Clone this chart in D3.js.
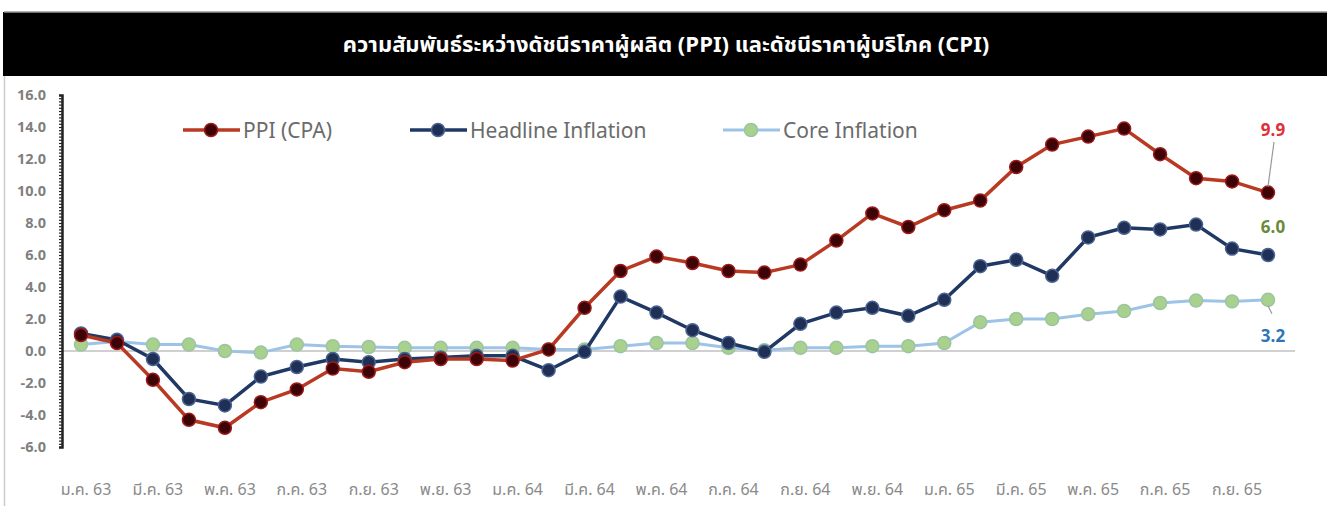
<!DOCTYPE html>
<html><head><meta charset="utf-8">
<script src="https://cdn.jsdelivr.net/npm/d3@7"></script>
<style>
html,body{margin:0;padding:0;background:#fff;}
svg{display:block;}
text{font-family:"Noto Sans Thai","Noto Sans","DejaVu Sans",sans-serif;}
</style></head>
<body>
<svg id="c" width="1327" height="506"></svg>
<script>
const months = ["ม.ค.63","ก.พ.63","มี.ค.63","เม.ย.63","พ.ค.63","มิ.ย.63","ก.ค.63","ส.ค.63","ก.ย.63","ต.ค.63","พ.ย.63","ธ.ค.63",
"ม.ค.64","ก.พ.64","มี.ค.64","เม.ย.64","พ.ค.64","มิ.ย.64","ก.ค.64","ส.ค.64","ก.ย.64","ต.ค.64","พ.ย.64","ธ.ค.64",
"ม.ค.65","ก.พ.65","มี.ค.65","เม.ย.65","พ.ค.65","มิ.ย.65","ก.ค.65","ส.ค.65","ก.ย.65","ต.ค.65"];
const ppi = [1.0,0.5,-1.8,-4.3,-4.8,-3.2,-2.4,-1.1,-1.3,-0.7,-0.5,-0.5,-0.6,0.1,2.7,5.0,5.9,5.5,5.0,4.9,5.4,6.9,8.6,7.75,8.8,9.4,11.5,12.9,13.4,13.9,12.3,10.8,10.6,9.9];
const headline = [1.1,0.7,-0.5,-3.0,-3.4,-1.6,-1.0,-0.5,-0.7,-0.5,-0.4,-0.3,-0.3,-1.2,-0.05,3.4,2.4,1.3,0.5,-0.05,1.7,2.4,2.7,2.2,3.2,5.3,5.7,4.7,7.1,7.7,7.6,7.9,6.4,6.0];
const core = [0.4,0.6,0.4,0.4,0.0,-0.1,0.4,0.3,0.25,0.2,0.2,0.2,0.2,0.1,0.1,0.3,0.5,0.5,0.2,0.05,0.2,0.2,0.3,0.3,0.5,1.8,2.0,2.0,2.3,2.5,3.0,3.15,3.1,3.2];
const yTicks = [16,14,12,10,8,6,4,2,0,-2,-4,-6];
const xTickLabels = ["ม.ค.63","มี.ค.63","พ.ค.63","ก.ค.63","ก.ย.63","พ.ย.63","ม.ค.64","มี.ค.64","พ.ค.64","ก.ค.64","ก.ย.64","พ.ย.64","ม.ค.65","มี.ค.65","พ.ค.65","ก.ค.65","ก.ย.65"];
const seriesNames = ["PPI (CPA)","Headline Inflation","Core Inflation"];
const title = "ความสัมพันธ์ระหว่างดัชนีราคาผู้ผลิต (PPI) และดัชนีราคาผู้บริโภค (CPI)";

const svg = d3.select("#c");
// frame
svg.append("rect").attr("x",3).attr("y",12).attr("width",1330).attr("height",64).attr("fill","#000");
svg.append("line").attr("x1",4).attr("x2",1327).attr("y1",12).attr("y2",12).attr("stroke","#999").attr("stroke-width",1.5);
svg.append("line").attr("x1",4.5).attr("x2",4.5).attr("y1",76).attr("y2",506).attr("stroke","#ccc").attr("stroke-width",1.5);
svg.append("text").attr("x",666).attr("y",52).attr("text-anchor","middle").attr("fill","#fff")
  .attr("font-size",22).attr("font-weight","bold").text(title);

const x = d3.scalePoint().domain(months).range([81,1268]);
const y = d3.scaleLinear().domain([-6,16]).range([447,95]);

// zero line
svg.append("line").attr("x1",62).attr("x2",1295).attr("y1",y(0)).attr("y2",y(0)).attr("stroke","#d0d0d0").attr("stroke-width",2);

// y axis with dense minor ticks
const minor = d3.range(-6,16.001,0.2);
const ax = svg.append("g").attr("transform","translate(62,0)")
  .call(d3.axisLeft(y).tickValues(minor).tickSize(3).tickFormat(""));
ax.selectAll("path,line").attr("stroke","#222").attr("stroke-width",1.2);
ax.select(".domain").attr("stroke-width",2.5);
svg.append("g").selectAll("text").data(yTicks).join("text")
  .attr("x",46).attr("y",d=>y(d)+5).attr("text-anchor","end").attr("font-size",14.5).attr("font-weight","bold")
  .attr("fill","#7f7f7f").text(d=>d.toFixed(1));

// x labels
svg.append("g").selectAll("text").data(xTickLabels).join("text")
  .attr("x",d=>x(d)+5).attr("y",495).attr("text-anchor","middle").attr("font-size",16)
  .attr("fill","#8a8a8a").text(d=>d.replace(/(\d+)$/," $1"));

const line = d3.line().x((d,i)=>x(months[i])).y(d=>y(d));
const styles = [
  {data:core, line:"#9dc3e6", fill:"#a9d18e", stroke:"#9dc3a0", w:3},
  {data:headline, line:"#203864", fill:"#1f2f55", stroke:"#4a6390", w:3.5},
  {data:ppi, line:"#b83a22", fill:"#3d0306", stroke:"#9b1a1a", w:3.5}
];
styles.forEach(s=>{
  svg.append("path").datum(s.data).attr("d",line).attr("fill","none").attr("stroke",s.line).attr("stroke-width",s.w);
  svg.append("g").selectAll("circle").data(s.data).join("circle")
    .attr("cx",(d,i)=>x(months[i])).attr("cy",d=>y(d)).attr("r",6.5)
    .attr("fill",s.fill).attr("stroke",s.stroke).attr("stroke-width",1.5);
});

// legend
const leg = [
  {x:183, name:seriesNames[0], st:styles[2]},
  {x:410, name:seriesNames[1], st:styles[1]},
  {x:723, name:seriesNames[2], st:styles[0]}
];
leg.forEach(l=>{
  const g = svg.append("g");
  g.append("line").attr("x1",l.x).attr("x2",l.x+57).attr("y1",130).attr("y2",130).attr("stroke",l.st.line).attr("stroke-width",l.st.w);
  g.append("circle").attr("cx",l.x+28).attr("cy",130).attr("r",6.5).attr("fill",l.st.fill).attr("stroke",l.st.stroke).attr("stroke-width",1.5);
  g.append("text").attr("x",l.x+60).attr("y",138).attr("font-size",21).attr("fill","#6b6b6b").text(l.name);
});

// end labels
const last = months.length-1;
const lx = x(months[last]);
svg.append("line").attr("x1",lx).attr("y1",y(ppi[last])-6).attr("x2",lx+6).attr("y2",142).attr("stroke","#999").attr("stroke-width",1.2);
svg.append("text").attr("x",lx+5).attr("y",136).attr("text-anchor","middle").attr("font-size",17).attr("font-weight","bold").attr("fill","#e0303a").text(ppi[last].toFixed(1));
svg.append("text").attr("x",lx+5).attr("y",233).attr("text-anchor","middle").attr("font-size",17).attr("font-weight","bold").attr("fill","#6a8a3a").text(headline[last].toFixed(1));
svg.append("line").attr("x1",lx).attr("y1",y(core[last])+6).attr("x2",lx+4).attr("y2",y(core[last])+14).attr("stroke","#999").attr("stroke-width",1.2);
svg.append("text").attr("x",lx+5).attr("y",342).attr("text-anchor","middle").attr("font-size",17).attr("font-weight","bold").attr("fill","#2e75b6").text(core[last].toFixed(1));
</script>
</body></html>
